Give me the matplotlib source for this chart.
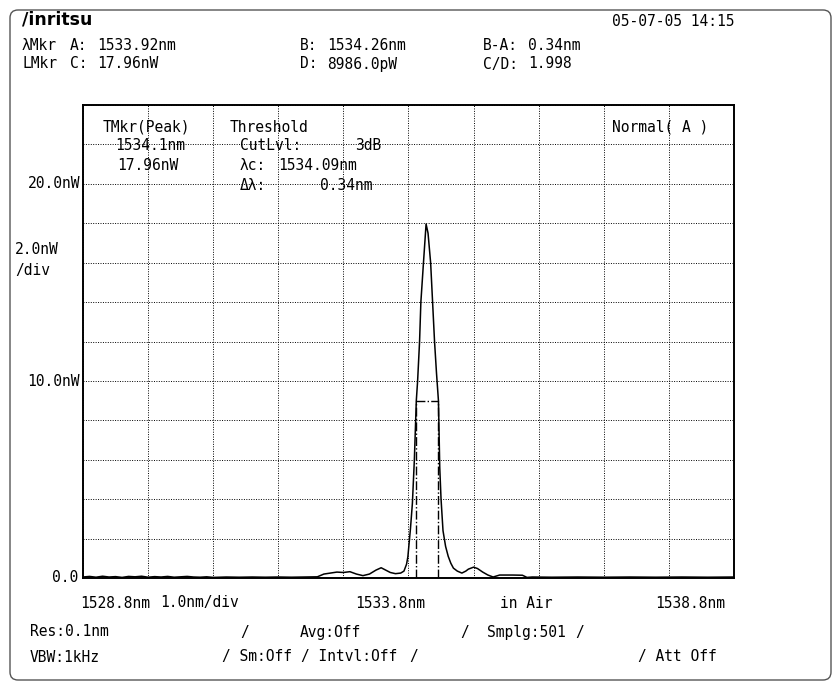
import matplotlib
matplotlib.use("Agg")
import matplotlib.pyplot as plt
from matplotlib.patches import FancyBboxPatch
import numpy as np

# trace (nm, nW)
wl = [1528.80, 1528.90, 1529.00, 1529.10, 1529.20, 1529.30, 1529.40, 1529.50,
      1529.60, 1529.70, 1529.80, 1529.90, 1530.00, 1530.10, 1530.20, 1530.30,
      1530.40, 1530.50, 1530.60, 1530.70, 1530.80, 1531.00, 1531.20, 1531.40,
      1531.60, 1531.80, 1532.00, 1532.20, 1532.40, 1532.50, 1532.60, 1532.70,
      1532.80, 1532.90, 1533.00, 1533.10, 1533.20, 1533.30, 1533.38, 1533.45,
      1533.52, 1533.60, 1533.68, 1533.73, 1533.77, 1533.79, 1533.83, 1533.86,
      1533.89, 1533.92, 1533.94, 1533.97, 1533.99, 1534.03, 1534.07, 1534.10,
      1534.14, 1534.17, 1534.20, 1534.23, 1534.26, 1534.28, 1534.30, 1534.33,
      1534.37, 1534.41, 1534.45, 1534.49, 1534.55, 1534.62, 1534.68, 1534.72,
      1534.80, 1534.86, 1534.94, 1535.02, 1535.10, 1535.15, 1535.20, 1535.40,
      1535.55, 1535.62, 1535.70, 1536.00, 1536.40, 1536.80, 1537.20, 1537.60,
      1538.00, 1538.40, 1538.80]
pw = [0.05, 0.08, 0.04, 0.09, 0.05, 0.07, 0.03, 0.08,
      0.06, 0.09, 0.04, 0.07, 0.05, 0.08, 0.04, 0.06,
      0.08, 0.05, 0.04, 0.06, 0.03, 0.05, 0.04, 0.05,
      0.04, 0.05, 0.04, 0.05, 0.06, 0.20, 0.25, 0.30,
      0.28, 0.32, 0.20, 0.12, 0.20, 0.40, 0.52, 0.40,
      0.28, 0.22, 0.25, 0.35, 0.70, 1.07, 2.50, 3.80,
      6.00, 9.00, 10.0, 12.0, 14.0, 16.0, 17.96, 17.5,
      16.0, 14.0, 12.0, 10.4, 8.99, 5.60, 4.00, 2.40,
      1.60, 1.10, 0.75, 0.50, 0.35, 0.25, 0.35, 0.45,
      0.55, 0.48, 0.30, 0.15, 0.05, 0.10, 0.15, 0.15,
      0.14, 0.03, 0.05, 0.04, 0.05, 0.04, 0.05, 0.04,
      0.05, 0.04, 0.05]

mkr_a = 1533.92
mkr_b = 1534.26
lvl_d = 8.986

x_start, x_stop, x_div = 1528.8, 1538.8, 1.0
y_max, y_div = 24.0, 2.0

top_rows = [
    (22, 46, "λMkr"), (70, 46, "A:"), (97, 46, "1533.92nm"),
    (300, 46, "B:"), (327, 46, "1534.26nm"), (483, 46, "B-A:"), (528, 46, "0.34nm"),
    (22, 64, "LMkr"), (70, 64, "C:"), (97, 64, "17.96nW"),
    (300, 64, "D:"), (327, 64, "8986.0pW"), (483, 64, "C/D:"), (528, 64, "1.998"),
]
box_rows = [
    (103, 127, "TMkr(Peak)"), (115, 146, "1534.1nm"), (117, 166, "17.96nW"),
    (230, 127, "Threshold"), (240, 146, "CutLvl:"), (355, 146, "3dB"),
    (240, 166, "λc:"), (278, 166, "1534.09nm"),
    (240, 186, "Δλ:"), (320, 186, "0.34nm"),
    (612, 127, "Normal( A )"),
]
bottom_rows = [
    (80, 603, "1528.8nm"), (160, 603, "1.0nm/div"), (355, 603, "1533.8nm"),
    (500, 603, "in Air"), (655, 603, "1538.8nm"),
    (30, 632, "Res:0.1nm"), (240, 632, "/"), (300, 632, "Avg:Off"),
    (460, 632, "/"), (487, 632, "Smplg:501"), (575, 632, "/"),
    (30, 657, "VBW:1kHz"), (222, 657, "/ Sm:Off"), (301, 657, "/ Intvl:Off"),
    (409, 657, "/"), (638, 657, "/ Att Off"),
]

fnt = dict(family="DejaVu Sans Mono", fontsize=10.5, color="black")

fig = plt.figure(figsize=(8.32, 6.82), dpi=100)
bg = fig.add_axes([0, 0, 1, 1])
bg.set_xlim(0, 832)
bg.set_ylim(682, 0)
bg.axis("off")

bg.add_patch(FancyBboxPatch((10, 10), 821, 670, boxstyle="round,pad=0,rounding_size=8",
                            fc="none", ec="#555555", lw=1.0))

bg.text(22, 20, "/inritsu", fontweight="bold", family="DejaVu Sans", fontsize=12.5, va="center")
bg.text(735, 22, "05-07-05 14:15", ha="right", va="center", **fnt)
for x, y, s in top_rows + bottom_rows:
    bg.text(x, y, s, va="center", **fnt)

# y labels left of the plot
bg.text(80, 184, "20.0nW", ha="right", va="center", **fnt)
bg.text(15, 250, "2.0nW", va="center", **fnt)
bg.text(15, 270, "/div", va="center", **fnt)
bg.text(80, 382, "10.0nW", ha="right", va="center", **fnt)
bg.text(78, 578, "0.0", ha="right", va="center", **fnt)

ax = fig.add_axes([83 / 832, (682 - 578) / 682, 651 / 832, 473 / 682])
ax.set_xlim(x_start, x_stop)
ax.set_ylim(0, y_max)
ax.set_xticks(np.arange(x_start, x_stop + 0.01, x_div))
ax.set_yticks(np.arange(0, y_max + 0.01, y_div))
ax.tick_params(length=0, labelbottom=False, labelleft=False)
ax.grid(True, color="black", ls=(0, (1, 1.5)), lw=0.7)
for sp in ax.spines.values():
    sp.set_linewidth(1.4)
ax.patch.set_alpha(0)

ax.plot(wl, pw, color="black", lw=1.1)

# 3dB threshold markers
ax.plot([mkr_a, mkr_a], [0, lvl_d], color="black", lw=1.0, ls="-.")
ax.plot([mkr_b, mkr_b], [0, lvl_d], color="black", lw=1.0, ls="-.")
ax.plot([mkr_a, mkr_b], [lvl_d, lvl_d], color="black", lw=1.0, ls="-.")

for x, y, s in box_rows:
    bg.text(x, y, s, va="center", zorder=5, **fnt)
bg.set_zorder(2)

fig.savefig("out.png", dpi=100)
